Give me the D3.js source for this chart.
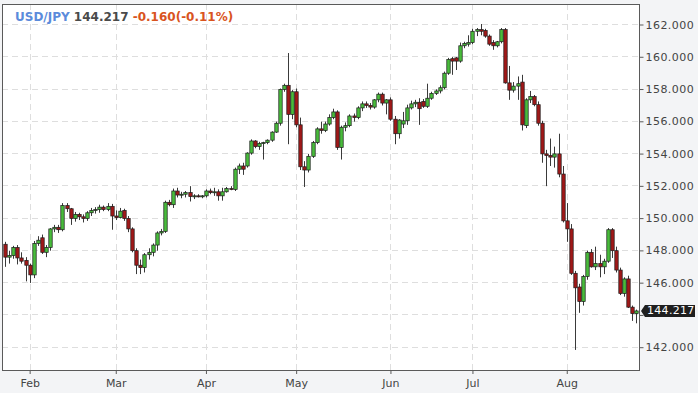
<!DOCTYPE html>
<html>
<head>
<meta charset="utf-8">
<script src="https://cdn.jsdelivr.net/npm/d3@7/dist/d3.min.js"></script>
<style>
  html, body { margin: 0; padding: 0; background: #f3f4f6; }
  svg { display: block; }
</style>
</head>
<body>
<svg id="chart" width="698" height="393"></svg>
<script>
// ---------- DATA ----------
const dates = [
  "2024-01-24","2024-01-25","2024-01-26","2024-01-29","2024-01-30","2024-01-31",
  "2024-02-01","2024-02-02","2024-02-05","2024-02-06","2024-02-07","2024-02-08","2024-02-09","2024-02-12","2024-02-13","2024-02-14","2024-02-15","2024-02-16","2024-02-19","2024-02-20","2024-02-21","2024-02-22","2024-02-23","2024-02-26","2024-02-27","2024-02-28","2024-02-29",
  "2024-03-01","2024-03-04","2024-03-05","2024-03-06","2024-03-07","2024-03-08","2024-03-11","2024-03-12","2024-03-13","2024-03-14","2024-03-15","2024-03-18","2024-03-19","2024-03-20","2024-03-21","2024-03-22","2024-03-25","2024-03-26","2024-03-27","2024-03-28","2024-03-29","2024-03-31",
  "2024-04-01","2024-04-02","2024-04-03","2024-04-04","2024-04-05","2024-04-08","2024-04-09","2024-04-10","2024-04-11","2024-04-12","2024-04-15","2024-04-16","2024-04-17","2024-04-18","2024-04-19","2024-04-22","2024-04-23","2024-04-24","2024-04-25","2024-04-26","2024-04-29","2024-04-30",
  "2024-05-01","2024-05-02","2024-05-03","2024-05-06","2024-05-07","2024-05-08","2024-05-09","2024-05-10","2024-05-13","2024-05-14","2024-05-15","2024-05-16","2024-05-17","2024-05-20","2024-05-21","2024-05-22","2024-05-23","2024-05-24","2024-05-27","2024-05-28","2024-05-29","2024-05-30","2024-05-31",
  "2024-06-03","2024-06-04","2024-06-05","2024-06-06","2024-06-07","2024-06-10","2024-06-11","2024-06-12","2024-06-13","2024-06-14","2024-06-17","2024-06-18","2024-06-19","2024-06-20","2024-06-21","2024-06-24","2024-06-25","2024-06-26","2024-06-27","2024-06-28",
  "2024-07-01","2024-07-02","2024-07-03","2024-07-04","2024-07-05","2024-07-08","2024-07-09","2024-07-10","2024-07-11","2024-07-12","2024-07-15","2024-07-16","2024-07-17","2024-07-18","2024-07-19","2024-07-22","2024-07-23","2024-07-24","2024-07-25","2024-07-26","2024-07-29","2024-07-30","2024-07-31",
  "2024-08-01","2024-08-02","2024-08-05","2024-08-06","2024-08-07","2024-08-08","2024-08-09","2024-08-12","2024-08-13","2024-08-14","2024-08-15","2024-08-16","2024-08-19","2024-08-20","2024-08-21","2024-08-22","2024-08-23","2024-08-26"
];

const open = [
  148.35,147.55,147.65,148.15,147.50,147.35,
  147.05,146.45,148.40,148.75,147.85,148.15,149.30,149.40,149.25,150.75,150.55,149.95,150.20,150.05,149.95,150.30,150.45,150.50,150.65,150.50,150.70,
  150.10,150.00,150.45,149.95,149.30,147.95,147.05,146.90,147.70,147.85,148.30,149.05,149.15,150.95,150.80,151.65,151.40,151.45,151.55,151.30,151.35,151.30,
  151.35,151.65,151.55,151.60,151.35,151.60,151.80,151.75,153.00,153.20,153.20,154.00,154.75,154.40,154.60,154.65,154.80,155.30,155.85,157.95,158.20,156.40,
  157.80,155.75,153.15,152.95,153.80,154.65,155.50,155.40,155.80,156.20,156.55,154.35,155.60,155.70,156.30,156.20,156.80,157.05,156.95,156.85,157.30,157.65,157.10,
  157.30,156.10,155.20,155.80,156.00,156.80,157.05,157.15,157.20,156.90,157.40,157.70,157.85,158.05,158.95,159.85,159.90,159.70,160.65,160.75,
  160.85,161.55,161.65,161.60,161.25,160.85,160.65,160.90,161.65,158.35,157.90,158.15,158.40,155.70,157.30,157.50,157.00,155.85,153.95,153.85,153.75,153.95,152.70,
  149.80,149.30,146.55,145.70,144.80,146.35,147.85,146.95,147.15,146.95,147.30,149.25,147.95,146.75,145.30,146.20,144.45,144.05
];
const high = [
  148.50,147.95,148.25,148.30,147.85,147.55,
  147.15,148.55,148.85,148.95,148.30,149.35,149.55,149.55,150.90,150.90,150.60,150.35,150.30,150.20,150.40,150.60,150.65,150.80,150.75,150.90,150.85,
  150.45,150.60,150.55,150.10,149.40,148.10,147.40,147.80,148.10,148.40,149.15,149.30,151.05,151.10,151.80,151.85,151.60,151.65,151.95,151.45,151.45,151.40,
  151.75,151.80,151.85,151.75,151.85,151.90,151.95,153.10,153.35,153.40,154.05,154.85,154.80,154.70,154.70,154.85,155.35,155.95,158.00,158.30,160.20,157.90,
  158.00,156.20,153.50,153.95,154.75,155.60,155.95,155.95,156.40,156.75,156.65,155.70,155.90,156.40,156.45,156.90,157.20,157.20,157.10,157.35,157.75,157.75,157.35,
  157.45,156.30,156.10,156.55,157.00,157.25,157.30,157.40,157.35,158.30,157.80,157.95,158.20,159.05,159.90,159.95,159.95,160.85,160.90,161.30,
  161.70,161.75,162.00,161.70,161.35,161.00,160.95,161.75,161.75,159.40,158.40,158.75,158.85,157.40,157.85,157.60,157.20,156.00,154.20,154.90,154.40,155.20,153.20,
  150.90,149.60,146.70,145.90,146.45,147.95,148.05,148.20,147.70,147.45,149.35,149.35,148.20,146.90,146.30,146.40,144.55,144.30
];
const low = [
  146.95,147.15,147.45,147.10,147.15,146.05,
  145.95,146.25,148.25,147.75,147.55,147.95,149.10,149.05,149.15,150.35,149.55,149.75,149.85,149.70,149.80,150.10,150.25,150.30,150.40,150.40,149.25,
  149.85,149.95,149.80,149.10,147.85,146.50,146.50,146.60,147.40,147.60,147.95,148.90,149.05,150.70,150.60,151.25,151.20,151.25,151.00,151.15,151.25,151.20,
  151.25,151.45,151.35,151.05,151.05,151.55,151.70,151.65,152.70,152.65,153.10,153.90,154.30,154.20,153.60,154.55,154.70,155.25,155.70,157.80,154.55,156.10,
  155.60,152.95,151.90,152.80,153.70,154.55,155.20,155.30,155.70,156.10,154.20,153.60,155.35,155.60,155.95,156.10,156.60,156.80,156.70,156.75,157.15,156.95,156.40,
  156.00,154.55,154.90,155.55,155.75,156.70,156.85,155.75,156.80,156.80,157.30,157.60,157.70,157.95,158.85,158.85,159.15,159.60,160.50,160.60,
  160.75,161.25,161.30,161.15,160.65,160.40,160.55,160.80,158.30,157.30,157.75,157.30,155.40,155.55,157.10,156.90,155.70,153.40,151.95,153.20,153.10,152.50,149.70,
  148.50,146.45,141.80,144.10,144.55,146.15,146.90,146.75,146.30,146.50,147.20,147.50,146.60,145.20,145.10,144.40,143.60,143.45
];
const close = [
  147.55,147.65,148.15,147.50,147.30,147.05,
  146.45,148.40,148.60,147.85,148.15,149.30,149.40,149.25,150.75,150.55,149.95,150.20,150.05,149.95,150.30,150.45,150.50,150.65,150.50,150.70,150.10,
  150.00,150.40,149.95,149.30,147.95,147.05,146.90,147.70,147.85,148.30,149.05,149.15,150.95,150.80,151.65,151.40,151.45,151.55,151.30,151.35,151.30,151.35,
  151.65,151.55,151.60,151.35,151.60,151.80,151.75,153.00,153.20,153.00,154.00,154.75,154.40,154.60,154.65,154.80,155.30,155.85,157.95,158.20,156.40,157.80,
  155.75,153.15,152.95,153.80,154.65,155.50,155.40,155.80,156.20,156.55,154.35,155.60,155.70,156.30,156.20,156.80,157.05,156.95,156.85,157.30,157.65,157.10,157.30,
  156.10,155.20,156.05,156.00,156.80,157.05,157.15,156.75,156.90,157.40,157.70,157.85,158.05,158.95,159.80,159.70,159.70,160.65,160.80,160.85,
  161.55,161.65,161.55,161.25,160.75,160.65,160.90,161.65,158.35,157.90,158.15,158.30,155.75,157.30,157.50,157.00,155.85,153.95,153.85,153.75,153.95,152.70,149.80,
  149.30,146.55,145.65,144.80,146.35,147.85,146.95,147.15,146.95,147.30,149.25,147.95,146.75,145.30,146.20,144.45,144.05,144.217
];

const yTicks = [142, 144, 146, 148, 150, 152, 154, 156, 158, 160, 162];
const monthTickDates = ["2024-02-01","2024-03-01","2024-04-01","2024-05-01","2024-06-03","2024-07-01","2024-08-01"];
const monthTickLabels = ["Feb","Mar","Apr","May","Jun","Jul","Aug"];

const symbol = "USD/JPY";
const lastPrice = 144.217;
const changeText = "-0.160(-0.11%)";

// ---------- LAYOUT ----------
const plot = { left: 2, top: 4, right: 640, bottom: 370 };

const svg = d3.select("#chart");

const x = d3.scaleBand().domain(dates).range([3, 638.5]).padding(0);
const y = d3.scaleLinear().domain([142, 162]).range([346.7, 24]);
const xc = d => x(d) + x.bandwidth() / 2;

// plot background
svg.append("rect")
  .attr("x", plot.left).attr("y", plot.top)
  .attr("width", plot.right - plot.left).attr("height", plot.bottom - plot.top)
  .attr("fill", "#ffffff");

svg.append("clipPath").attr("id", "plotclip")
  .append("rect")
  .attr("x", plot.left).attr("y", plot.top)
  .attr("width", plot.right - plot.left).attr("height", plot.bottom - plot.top);

// grid
const grid = svg.append("g").attr("clip-path", "url(#plotclip)");
grid.selectAll("line.hg").data(yTicks).join("line")
  .attr("class", "hg")
  .attr("x1", plot.left).attr("x2", plot.right)
  .attr("y1", d => Math.round(y(d)) + 0.5).attr("y2", d => Math.round(y(d)) + 0.5)
  .attr("stroke", "#dedede").attr("stroke-width", 1)
  .attr("stroke-dasharray", "6,4");

grid.selectAll("line.vg").data(monthTickDates).join("line")
  .attr("class", "vg")
  .attr("x1", d => Math.round(xc(d)) + 0.5).attr("x2", d => Math.round(xc(d)) + 0.5)
  .attr("y1", plot.top).attr("y2", plot.bottom)
  .attr("stroke", "#dedede").attr("stroke-width", 1)
  .attr("stroke-dasharray", "6,4");

// candles
const candles = dates.map((d, i) => ({ d, o: open[i], h: high[i], l: low[i], c: close[i] }));
const cg = svg.append("g").attr("clip-path", "url(#plotclip)");
const bw = 3.4;

cg.selectAll("line.wick").data(candles).join("line")
  .attr("class", "wick")
  .attr("x1", d => Math.round(xc(d.d)) + 0.5).attr("x2", d => Math.round(xc(d.d)) + 0.5)
  .attr("y1", d => y(d.h)).attr("y2", d => y(d.l))
  .attr("stroke", "#3a3a3a").attr("stroke-width", 1);

cg.selectAll("rect.body").data(candles).join("rect")
  .attr("class", "body")
  .attr("x", d => Math.round(xc(d.d)) + 0.5 - bw / 2)
  .attr("width", bw)
  .attr("y", d => y(Math.max(d.o, d.c)))
  .attr("height", d => Math.max(1, Math.abs(y(d.o) - y(d.c))))
  .attr("fill", d => d.c >= d.o ? "#48bb3b" : "#a01818")
  .attr("stroke", "#1c1c1c").attr("stroke-width", 0.7);

// plot border
svg.append("rect")
  .attr("x", plot.left + 0.5).attr("y", plot.top + 0.5)
  .attr("width", plot.right - plot.left - 1).attr("height", plot.bottom - plot.top)
  .attr("fill", "none").attr("stroke", "#5a5a5a").attr("stroke-width", 1);

// y axis (right); the 144 label sits under the last-price tag, as in the reference
const yAxis = d3.axisRight(y).tickValues(yTicks).tickSize(4).tickPadding(2)
  .tickFormat(d3.format(".3f"));
const yg = svg.append("g").attr("transform", `translate(${plot.right - 0.5},0.5)`).call(yAxis);
yg.select(".domain").remove();
yg.selectAll(".tick line").attr("stroke", "#5a5a5a");
yg.selectAll(".tick text")
  .attr("fill", "#444").attr("font-family", "DejaVu Sans, sans-serif")
  .attr("font-size", 11).attr("letter-spacing", 0.45);
yg.selectAll(".tick").filter(d => Math.abs(y(d) - y(lastPrice)) < 10).select("text").remove();

// x axis (bottom)
const xAxis = d3.axisBottom(x).tickValues(monthTickDates).tickSize(4).tickPadding(5)
  .tickFormat((d, i) => monthTickLabels[i]);
const xg = svg.append("g").attr("transform", `translate(0.5,${plot.bottom})`).call(xAxis);
xg.select(".domain").remove();
xg.selectAll(".tick line").attr("stroke", "#5a5a5a");
xg.selectAll(".tick text")
  .attr("fill", "#444").attr("font-family", "DejaVu Sans, sans-serif")
  .attr("font-size", 11);

// last price tag
const ly = y(lastPrice);
svg.append("path")
  .attr("d", `M${plot.right + 1},${ly} L${plot.right + 5},${ly - 6} L695,${ly - 6} L695,${ly + 6} L${plot.right + 5},${ly + 6} Z`)
  .attr("fill", "#1f1f1f");
svg.append("text")
  .attr("x", plot.right + 7).attr("y", ly)
  .attr("dominant-baseline", "central")
  .attr("fill", "#ffffff").attr("font-family", "DejaVu Sans, sans-serif")
  .attr("font-size", 11).attr("letter-spacing", 0.3)
  .text(d3.format(".3f")(lastPrice));

// title
const title = svg.append("text")
  .attr("x", 15).attr("y", 21)
  .attr("font-family", "DejaVu Sans, sans-serif").attr("font-size", 12).attr("font-weight", "bold");
title.append("tspan").attr("fill", "#5b8bdb").text(symbol);
title.append("tspan").attr("fill", "#4a4a4a").text(" " + d3.format(".3f")(lastPrice));
title.append("tspan").attr("fill", "#d9541e").text(" " + changeText);
</script>
</body>
</html>
